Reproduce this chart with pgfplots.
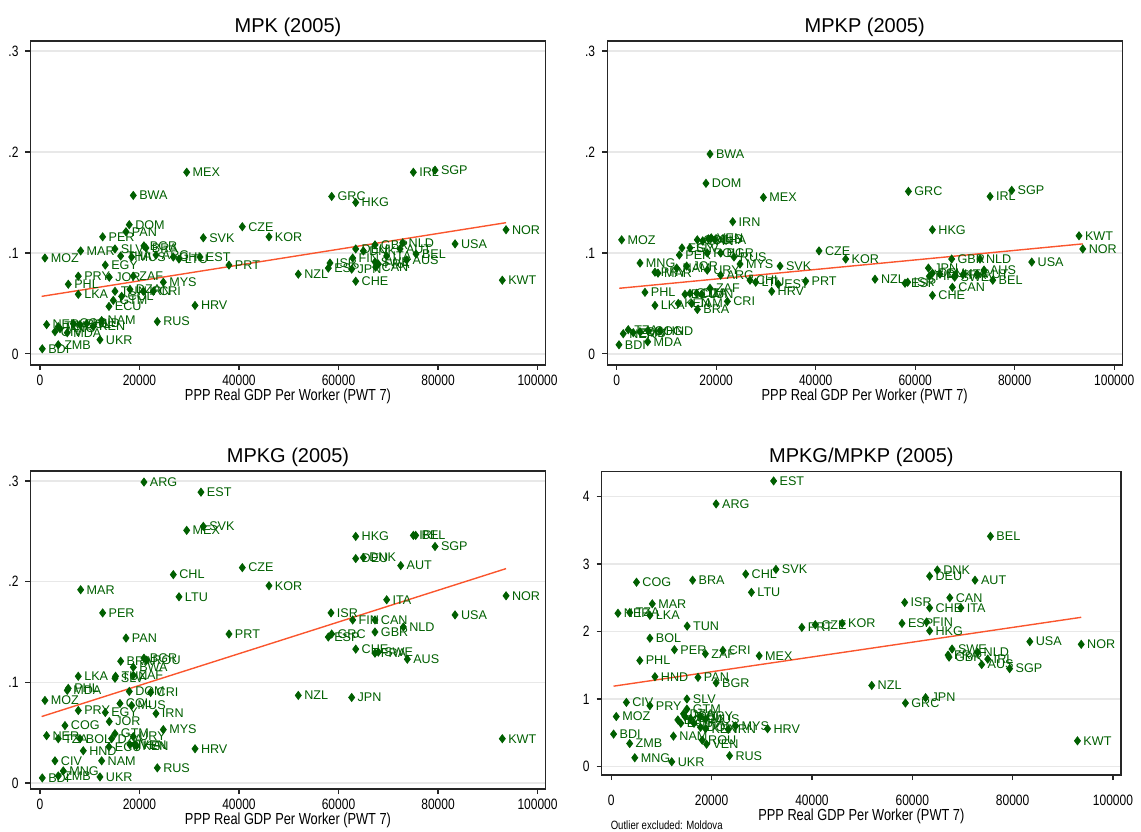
\documentclass[border=0pt]{standalone}
\usepackage{fontspec}
\setmainfont{Liberation Sans}
\setsansfont{Liberation Sans}
\newfontfamily\narrowfont[FakeStretch=0.8]{Liberation Sans}
\usepackage{pgfplots}
\usepackage{pgfplotstable}
\pgfplotsset{compat=1.18}

\definecolor{dkgreen}{RGB}{0,95,0}
\definecolor{fitline}{RGB}{250,85,45}
\definecolor{gridgray}{RGB}{232,232,232}

% MPK (2005)
\pgfplotstableread{
x y lab
470 .005 BDI
3680 .009 ZMB
12060 .014 UKR
1340 .029 NER
3020 .022 CIV
4020 .025 MNG
5490 .021 MDA
3680 .027 TZA
6700 .030 COG
8040 .029 BOL
9380 .030 HND
10700 .027 KEN
12400 .033 NAM
23580 .032 RUS
13870 .047 ECU
31160 .048 HRV
14740 .053 GTM
16420 .057 COL
15080 .062 TUN
18090 .064 DZA
20770 .062 IRN
22780 .062 CRI
7700 .059 LKA
5690 .069 PHL
7700 .077 PRY
13930 .076 JOR
18760 .077 ZAF
24790 .071 MYS
1000 .095 MOZ
13130 .088 EGY
8180 .102 MAR
15080 .104 SLV
16220 .097 THA
18430 .096 MUS
23320 .098 ARG
20900 .107 BGR
21300 .105 BRA
26800 .096 CHL
27940 .094 LTU
32160 .096 EST
37990 .088 PRT
17950 .128 DOM
17290 .121 PAN
12600 .116 PER
18760 .157 BWA
29490 .180 MEX
32830 .115 SVK
40670 .126 CZE
46030 .116 KOR
75040 .180 IRL
79400 .182 SGP
58630 .156 GRC
63460 .150 HKG
93670 .123 NOR
83420 .109 USA
72900 .110 NLD
67330 .108 GBR
63460 .104 DEU
64990 .102 DNK
69680 .097 ITA
72360 .104 AUT
75580 .099 BEL
73700 .093 AUS
62850 .095 FIN
58290 .090 ISR
57950 .085 ESP
62650 .084 JPN
67470 .086 CAN
67330 .091 SWE
68000 .089 FRA
51920 .079 NZL
63460 .072 CHE
92920 .073 KWT
}\mpk

% MPKP (2005)
\pgfplotstableread{
x y lab
18760 .198 BWA
17950 .169 DOM
29490 .155 MEX
23320 .131 IRN
1000 .113 MOZ
16200 .113 COL
17290 .112 PAN
18430 .114 MUS
19000 .115 VEN
19760 .113 THA
13130 .105 EGY
14730 .105 SLV
12600 .098 PER
18210 .100 ROU
20900 .100 BGR
23580 .096 RUS
24790 .089 MYS
32830 .087 SVK
40670 .102 CZE
46030 .094 KOR
4690 .090 MNG
12060 .085 NAM
14070 .087 JOR
7700 .081 PRY
8310 .080 MAR
18210 .083 URY
20900 .078 ARG
26800 .073 CHL
27940 .071 LTU
32480 .069 EST
37990 .072 PRT
31160 .062 HRV
18760 .065 ZAF
5690 .061 PHL
13730 .059 ECU
14730 .060 GTM
16080 .060 DZA
17080 .059 TUN
22250 .052 CRI
7700 .048 LKA
12380 .050 KEN
15080 .050 JAM
16220 .044 BRA
470 .009 BDI
6230 .012 MDA
1330 .020 NER
2330 .024 TZA
3340 .021 ZMB
4680 .022 CIV
6350 .023 COG
8710 .023 HND
58630 .161 GRC
79400 .162 SGP
75040 .156 IRL
63460 .123 HKG
92920 .117 KWT
93670 .104 NOR
83420 .091 USA
67330 .094 GBR
73030 .094 NLD
73830 .083 AUS
62650 .085 JPN
62850 .077 FIN
63460 .080 DEU
64990 .079 DNK
68000 .078 FRA
67930 .076 SWE
69680 .079 ITA
72500 .079 AUT
75580 .073 BEL
67470 .066 CAN
51920 .074 NZL
57950 .070 ESP
58490 .071 ISR
63460 .058 CHE
}\mpkp

% MPKG (2005)
\pgfplotstableread{
x y lab
20900 .299 ARG
32360 .289 EST
32830 .255 SVK
29490 .251 MEX
40670 .214 CZE
26800 .207 CHL
46030 .196 KOR
8180 .192 MAR
27940 .185 LTU
12600 .169 PER
37990 .148 PRT
17290 .144 PAN
16220 .121 BRA
20900 .124 BGR
21440 .122 ROU
18760 .115 BWA
18760 .107 ZAF
7700 .106 LKA
15080 .104 SLV
15200 .106 TUN
5690 .094 PHL
5490 .092 MDA
1000 .082 MOZ
17950 .091 DOM
22250 .090 CRI
16080 .079 COL
18430 .077 MUS
23320 .069 IRN
7700 .072 PRY
13130 .070 EGY
13930 .061 JOR
5030 .057 COG
24790 .053 MYS
1340 .047 NER
3680 .044 TZA
8040 .044 BOL
15080 .049 GTM
14410 .044 DZA
18760 .046 URY
13870 .036 ECU
18090 .038 THA
19000 .038 VEN
19430 .037 KEN
8710 .032 HND
31160 .034 HRV
3020 .022 CIV
12400 .022 NAM
23580 .015 RUS
4690 .012 MNG
3680 .007 ZMB
12060 .006 UKR
470 .005 BDI
63460 .245 HKG
75040 .246 IRL
75510 .246 BEL
79400 .235 SGP
63460 .223 DEU
64990 .224 DNK
72500 .216 AUT
69680 .182 ITA
93670 .186 NOR
58490 .169 ISR
83420 .167 USA
62850 .162 FIN
67330 .162 CAN
73030 .155 NLD
67330 .150 GBR
58630 .148 GRC
57950 .145 ESP
63460 .133 CHE
67330 .129 FRA
68000 .130 SWE
73830 .123 AUS
51920 .087 NZL
62650 .085 JPN
92920 .044 KWT
}\mpkg

% MPKG/MPKP (2005)
\pgfplotstableread{
x y lab
32360 4.23 EST
20900 3.89 ARG
75580 3.41 BEL
64990 2.91 DNK
63460 2.82 DEU
72500 2.76 AUT
67470 2.50 CAN
58490 2.43 ISR
63460 2.35 CHE
69680 2.35 ITA
57950 2.12 ESP
62850 2.14 FIN
63460 2.01 HKG
83420 1.85 USA
93670 1.81 NOR
67930 1.74 SWE
67130 1.65 FRA
67330 1.62 GBR
73030 1.69 NLD
75040 1.59 IRL
73830 1.51 AUS
79400 1.45 SGP
51920 1.20 NZL
62650 1.02 JPN
58630 0.94 GRC
92920 0.38 KWT
32830 2.92 SVK
26800 2.85 CHL
16220 2.76 BRA
5030 2.73 COG
27940 2.58 LTU
8180 2.41 MAR
1340 2.27 NER
3680 2.28 TZA
7700 2.24 LKA
15130 2.08 TUN
37990 2.06 PRT
40670 2.10 CZE
46030 2.12 KOR
7700 1.90 BOL
12600 1.73 PER
18760 1.67 ZAF
22250 1.72 CRI
29490 1.64 MEX
5690 1.57 PHL
8710 1.33 HND
17290 1.32 PAN
20900 1.24 BGR
15080 1.00 SLV
3020 0.95 CIV
7700 0.90 PRY
15080 0.85 GTM
14410 0.78 DZA
14700 0.74 JOR
15800 0.71 COL
17800 0.74 URY
18800 0.70 MUS
13270 0.69 EGY
13870 0.64 ECU
16500 0.64 THA
17800 0.58 DOM
18800 0.56 KEN
24790 0.60 MYS
23320 0.55 IRN
31160 0.56 HRV
1000 0.74 MOZ
470 0.48 BDI
12400 0.45 NAM
18130 0.39 ROU
19000 0.33 VEN
3680 0.34 ZMB
23580 0.16 RUS
4690 0.13 MNG
12060 0.07 UKR
}\ratio

\pgfplotsset{
  panel/.style={
    scale only axis,
    anchor=south west,
    width=257.5pt, height=162pt,
    xmin=-1900, xmax=101600,
    xtick={0,20000,40000,60000,80000,100000},
    xticklabels={0,20000,40000,60000,80000,100000},
    scaled x ticks=false,
    tick align=outside,
    xtick pos=bottom, ytick pos=left,
    major tick length=2.5pt,
    ymajorgrids,
    major grid style={draw=gridgray, line width=0.7pt},
    axis line style={draw=black!85, line width=0.6pt},
    tick style={draw=black!85, line width=0.6pt},
    tick label style={font=\narrowfont\fontsize{7.5}{8}\selectfont},
    xticklabel style={yshift=1pt},
    xlabel={PPP Real GDP Per Worker (PWT 7)},
    xlabel style={font=\narrowfont\fontsize{8}{9}\selectfont, inner sep=1pt, yshift=3pt},
    title style={at={(0.5,1)}, anchor=south, yshift=-4pt, inner sep=0pt,
      font=\fontsize{10}{12}\selectfont},
    clip=false,
  },
  shares/.style={
    ymin=-0.011, ymax=0.31,
    ytick={0,0.1,0.2,0.3},
    yticklabels={0,.1,.2,.3},
  },
  pts/.style={only marks, mark=diamond*, mark size=2pt, color=dkgreen,
    nodes near coords, point meta=explicit symbolic,
    every node near coord/.style={anchor=west, font=\fontsize{6.3}{7}\selectfont,
      text=dkgreen, inner sep=0pt, xshift=2.8pt}},
  fit/.style={no marks, color=fitline, line width=0.7pt},
}

\begin{document}
\begin{tikzpicture}
\useasboundingbox (0,0) rectangle (570.5pt,415.5pt);

\begin{axis}[panel, shares, at={(15.25pt,233pt)}, title={MPK (2005)}]
  \addplot[fit] coordinates {(340,0.057) (93670,0.130)};
  \addplot[pts] table[x=x, y=y, meta=lab] {\mpk};
\end{axis}

\begin{axis}[panel, shares, at={(303.6pt,233pt)}, title={MPKP (2005)}]
  \addplot[fit] coordinates {(520,0.065) (93670,0.109)};
  \addplot[pts] table[x=x, y=y, meta=lab] {\mpkp};
\end{axis}

\begin{axis}[panel, shares, at={(15.25pt,21pt)}, height=159pt, ymin=-0.006,
    title={MPKG (2005)}]
  \addplot[fit] coordinates {(340,0.066) (93670,0.213)};
  \addplot[pts] table[x=x, y=y, meta=lab] {\mpkg};
\end{axis}

\begin{axis}[panel, at={(300.85pt,28pt)}, width=259.65pt, height=151.75pt,
    ymin=-0.126, ymax=4.37, ytick={0,1,2,3,4}, yticklabels={0,1,2,3,4},
    xticklabel style={yshift=-5pt},
    title={MPKG/MPKP (2005)}]
  \addplot[fit] coordinates {(470,1.19) (93670,2.21)};
  \addplot[pts] table[x=x, y=y, meta=lab] {\ratio};
  \node[anchor=west, font=\narrowfont\fontsize{6}{7}\selectfont, xshift=1pt, yshift=-25pt]
    at (rel axis cs:0,0) {Outlier excluded: Moldova};
\end{axis}
\end{tikzpicture}
\end{document}
